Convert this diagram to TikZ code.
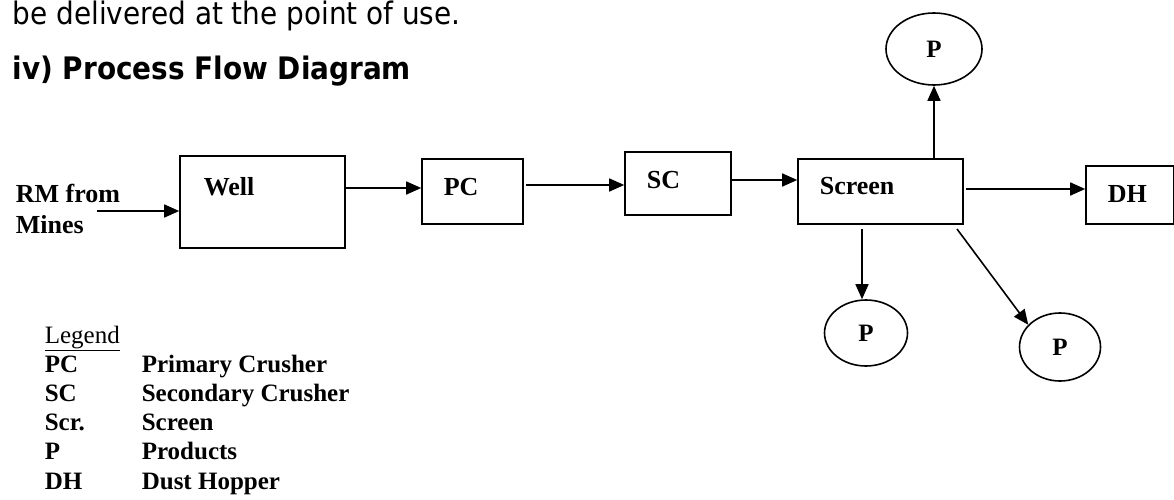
\documentclass[tikz,border=0pt]{standalone}
\usepackage{fontspec}
\setmainfont{Liberation Serif}
\newfontfamily\tah{DejaVu Sans Condensed}
\usetikzlibrary{arrows.meta,shapes.geometric,calc}
\begin{document}
\begin{tikzpicture}[x=1pt,y=-1pt,
  line width=1.6pt,
  boxn/.style={draw,rectangle,inner sep=0pt},
  prod/.style={draw,ellipse,inner sep=0pt,font=\fontsize{25}{29}\selectfont\bfseries},
  lbl/.style={anchor=base west,inner sep=0pt,font=\fontsize{26}{30}\selectfont\bfseries},
  leg/.style={anchor=base west,inner sep=0pt,font=\fontsize{25}{29}\selectfont\bfseries},
  arr/.style={-{Triangle[length=15pt,width=13pt]}}]
\useasboundingbox (0,0) rectangle (1174,500);
% heading text
\node[anchor=base west,inner sep=0pt,font=\tah\fontsize{31}{37}\selectfont] (body) at (12,25) {be delivered at the point of use.};
\node[anchor=base west,inner sep=0pt,font=\tah\fontsize{31}{37}\selectfont\bfseries] (head) at (12,80) {iv) Process Flow Diagram};
% boxes
\node[boxn,minimum width=165pt,minimum height=92pt] (well) at (262.5,202) {};
\node[boxn,minimum width=101pt,minimum height=65pt] (pc) at (472.5,191.5) {};
\node[boxn,minimum width=106pt,minimum height=63pt] (sc) at (678,183.5) {};
\node[boxn,minimum width=165pt,minimum height=65pt] (screen) at (880.5,191.5) {};
\node[boxn,minimum width=88pt,minimum height=58pt] (dh) at (1130,195) {};
% box texts
\node[lbl] (tRM) at (15,202) {RM from};
\node[lbl] (tMines) at (15,233) {Mines};
\node[lbl] (tWell) at (203,195) {Well};
\node[lbl] (tPC) at (443,195) {PC};
\node[lbl] (tSC) at (646,188) {SC};
\node[lbl] (tScreen) at (819,194) {Screen};
\node[lbl] (tDH) at (1107,202) {DH};
% products
\node[prod,minimum width=96pt,minimum height=72pt] (ptop) at (934,49) {P};
\node[prod,minimum width=83pt,minimum height=66pt] (p1) at (866,333) {P};
\node[prod,minimum width=81pt,minimum height=68pt] (p2) at (1060,347) {P};
% connectors
\coordinate (rmstart) at (97,211);
\draw[arr] (rmstart) -- (rmstart -| well.west);
\draw[arr] (well.east |- 0,188) -- (pc.west |- 0,188);
\draw[arr] ([xshift=2pt]pc.east |- 0,185) -- (sc.west |- 0,185);
\draw[arr] (sc.east |- 0,180) -- (screen.west |- 0,180);
\draw[arr] ([xshift=2pt]screen.east |- 0,189) -- (dh.west |- 0,189);
\draw[arr] (screen.north -| 934,0) -- (ptop.south);
\coordinate (s1) at (862,229);
\draw[arr] (s1) -- (s1 |- p1.north);
\coordinate (s2) at (957,229);
\draw[arr] (s2) -- (p2.145);
% legend
\node[anchor=base west,inner sep=0pt,font=\fontsize{25}{29}\selectfont] (lg) at (44,343) {\underline{Legend}};
\node[leg] (l1a) at (44,372) {PC};
\node[leg] (l1b) at (141,372) {Primary Crusher};
\node[leg] (l2a) at (44,401) {SC};
\node[leg] (l2b) at (141,401) {Secondary Crusher};
\node[leg] (l3a) at (44,430) {Scr.};
\node[leg] (l3b) at (141,430) {Screen};
\node[leg] (l4a) at (44,459) {P};
\node[leg] (l4b) at (141,459) {Products};
\node[leg] (l5a) at (44,489) {DH};
\node[leg] (l5b) at (141,489) {Dust Hopper};
\end{tikzpicture}
\end{document}
